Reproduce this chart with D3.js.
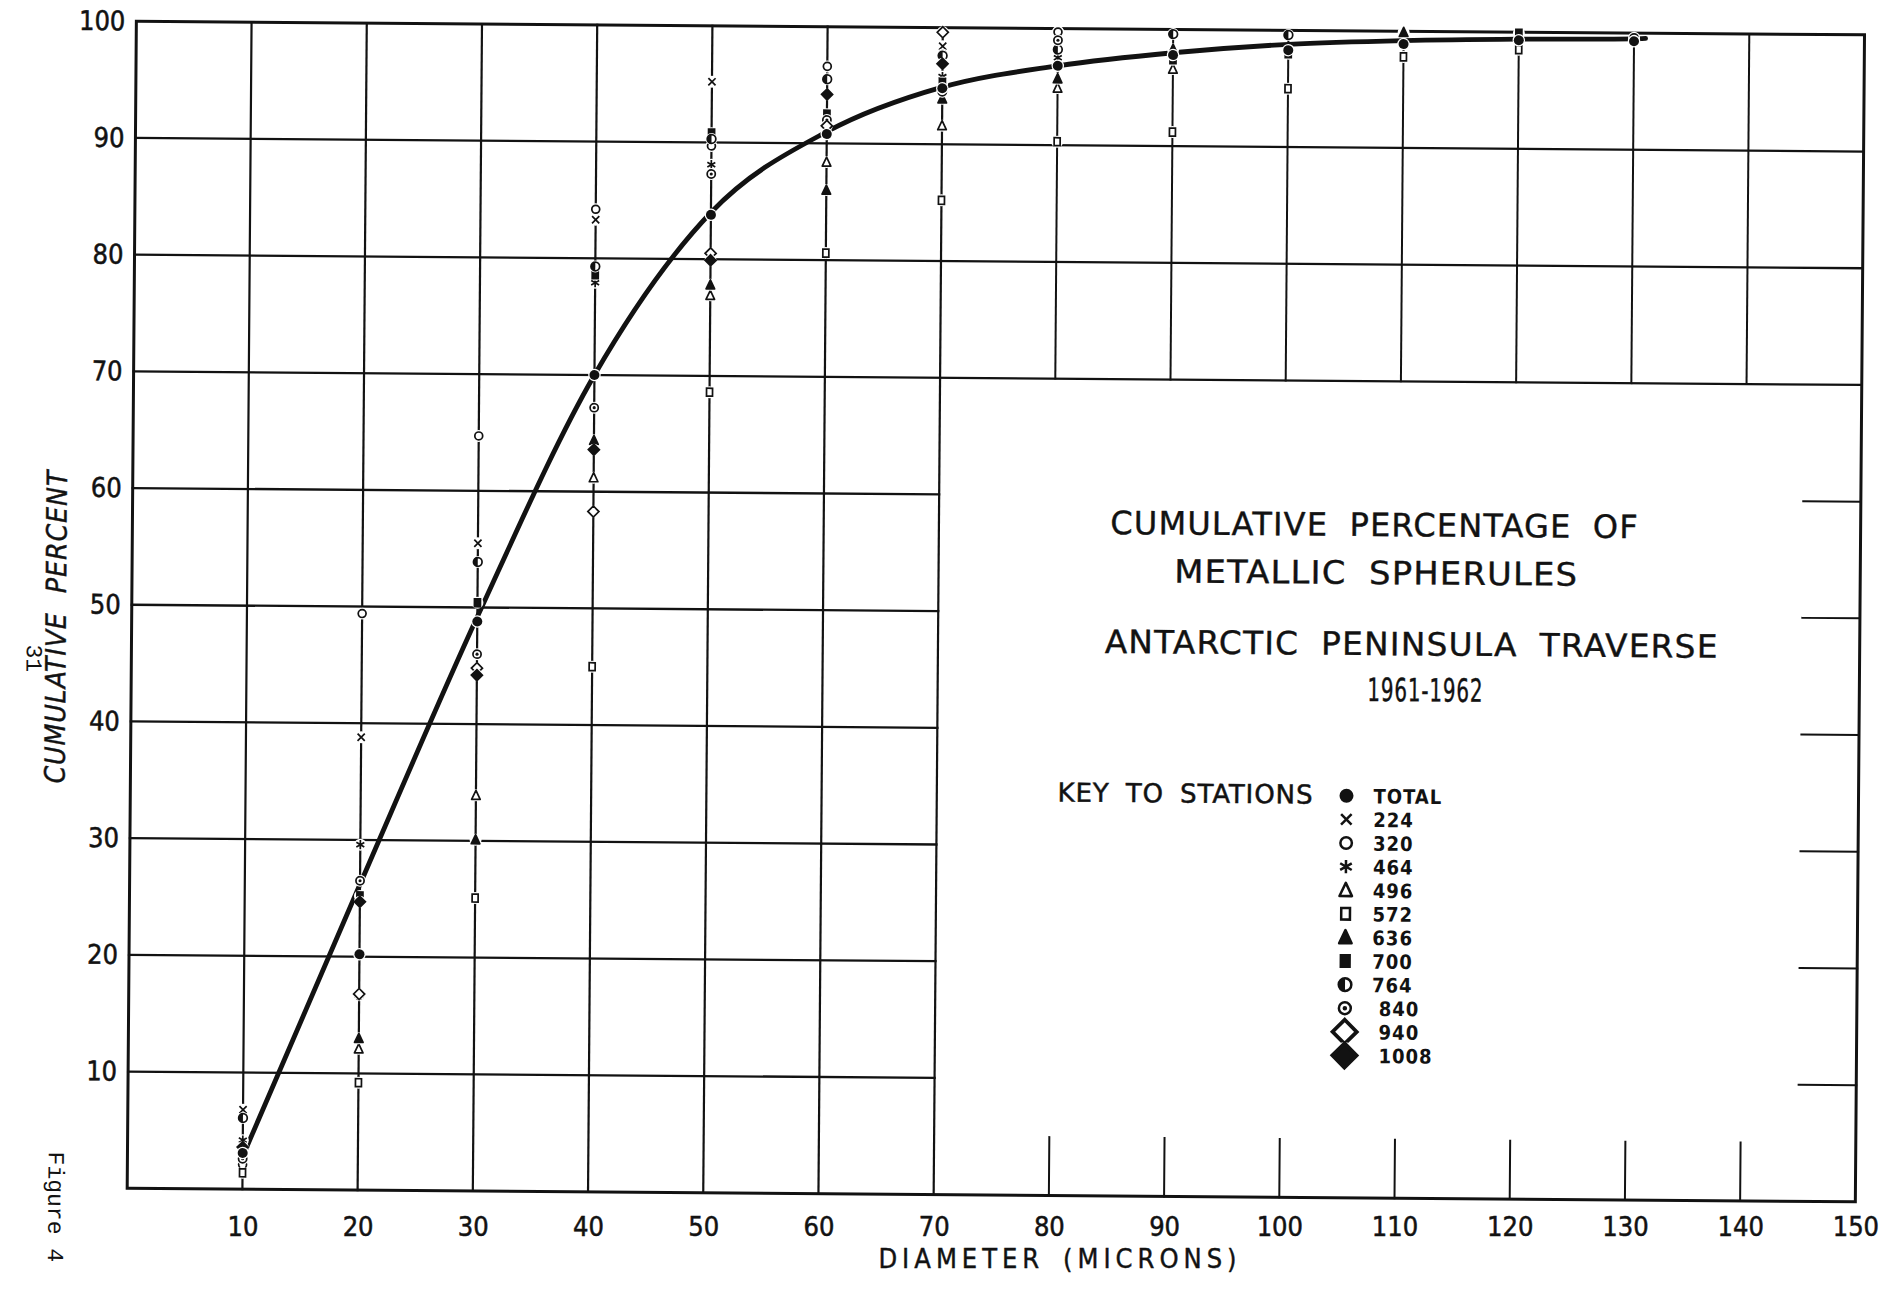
<!DOCTYPE html>
<html>
<head>
<meta charset="utf-8">
<script src="https://cdn.jsdelivr.net/npm/d3@7"></script>
<style>
  html, body { margin: 0; padding: 0; background: #fff; }
  svg { display: block; }
</style>
</head>
<body>
<svg id="chart" width="1882" height="1312"></svg>
<script>
// ---- values -------------------------------------------------------------
const diameters = [10, 20, 30, 40, 50, 60, 70, 80, 90, 100, 110, 120, 130];

// cumulative percent per station, aligned with `diameters` (null = not plotted)
const total  = [3.1, 20.2, 48.8, 70.0, 83.8, 90.8, 94.8, 96.8, 97.8, 98.3, 98.9, 99.3, 99.3];
const st224  = [6.8, 38.8, 55.5, 83.3, 95.2, null, 98.4, 99.7, null, null, null, null, null];
const st320  = [2.1, 49.4, 64.7, 84.2, 89.7, 96.6, 97.7, 99.7, null, null, null, null, 99.6];
const st464  = [4.2, 29.6, null, 77.9, 88.1, null, 95.8, 97.5, null, null, null, null, null];
const st496  = [null, 12.1, 33.9, 61.2, 76.9, 88.4, 91.6, 94.9, 96.6, null, null, null, null];
const st572  = [1.4, 9.2, 25.1, 45.0, 68.6, 80.6, 85.2, 90.3, 91.2, 95.0, 97.8, 98.5, null];
const st636  = [null, 13.0, 30.1, 64.4, 77.8, 86.0, 93.9, 95.7, 98.3, null, 99.9, null, null];
const st700  = [null, 25.2, 50.4, 78.6, 90.8, 92.5, 95.3, 98.6, 97.4, 98.0, null, 99.9, null];
const st764  = [6.1, 16.7, 53.9, 79.3, 90.3, 95.5, 97.6, 98.2, 99.6, 99.6, null, null, null];
const st840  = [2.6, 26.5, 46.0, 67.2, 87.3, 92.0, 94.5, 99.0, null, null, null, null, null];
const st940  = [null, 16.8, 44.8, 58.3, 80.5, 91.5, 99.6, null, null, null, null, null, null];
const st1008 = [3.6, 24.7, 44.2, 63.6, 79.9, 94.2, 96.9, null, null, null, null, null, null];

// smoothed cumulative curve
const curveDiameters = [10, 20, 30, 40, 50, 60, 70, 80, 90, 100, 110, 120, 130, 131];
const curvePercent   = [2.8, 26.2, 49.2, 70.0, 84.0, 91.0, 94.9, 96.8, 98.0, 98.8, 99.2, 99.4, 99.5, 99.55];

// station key
const stationNames = ["TOTAL", "224", "320", "464", "496", "572", "636", "700", "764", "840", "940", "1008"];
const stationValues = [total, st224, st320, st464, st496, st572, st636, st700, st764, st840, st940, st1008];
const stationSymbols = ["disc", "cross", "ring", "star", "triangle", "square",
                        "triangleFill", "squareFill", "halfDisc", "bullseye", "diamond", "diamondFill"];

// axis ticks
const xTicks = [10, 20, 30, 40, 50, 60, 70, 80, 90, 100, 110, 120, 130, 140, 150];
const yTicks = [10, 20, 30, 40, 50, 60, 70, 80, 90, 100];

// grid layout (in data units)
const fullRows = [70, 80, 90];
const shortRows = [10, 20, 30, 40, 50, 60];
const lowerCols = [10, 20, 30, 40, 50, 60, 70];
const upperCols = [80, 90, 100, 110, 120, 130, 140];

// ---- drawing ------------------------------------------------------------
const W = 1882, H = 1312;
const INK = "#121212";
const svg = d3.select("#chart");
svg.append("rect").attr("width", W).attr("height", H).attr("fill", "#fff");

// the ruled sheet sits at a slight tilt
const TILT = 0.45, CX = 990, CY = 605;
const g = svg.append("g").attr("transform", `rotate(${TILT} ${CX} ${CY})`);

const x = d3.scaleLinear().domain([0, 150]).range([131.8, 1860]);
const y = d3.scaleLinear().domain([0, 100]).range([1195, 28]);

const grid = g.append("g").attr("stroke", INK).attr("fill", "none").attr("stroke-linecap", "square");

// horizontal rules
grid.selectAll("line.full").data(fullRows).join("line")
  .attr("x1", x(0)).attr("x2", x(150))
  .attr("y1", d => y(d)).attr("y2", d => y(d))
  .attr("stroke-width", 2.3);
grid.selectAll("line.short").data(shortRows).join("line")
  .attr("class", "short")
  .attr("x1", x(0)).attr("x2", x(70))
  .attr("y1", d => y(d)).attr("y2", d => y(d))
  .attr("stroke-width", 2.3);
// vertical rules
grid.selectAll("line.lcol").data(lowerCols).join("line")
  .attr("class", "lcol")
  .attr("x1", d => x(d)).attr("x2", d => x(d))
  .attr("y1", y(0)).attr("y2", y(100))
  .attr("stroke-width", 2.2);
grid.selectAll("line.ucol").data(upperCols).join("line")
  .attr("class", "ucol")
  .attr("x1", d => x(d)).attr("x2", d => x(d))
  .attr("y1", y(70)).attr("y2", y(100))
  .attr("stroke-width", 2);
// short ticks along the right edge and the bottom of the open panel
grid.selectAll("line.rtick").data(shortRows).join("line")
  .attr("class", "rtick")
  .attr("x1", x(145)).attr("x2", x(150))
  .attr("y1", d => y(d)).attr("y2", d => y(d))
  .attr("stroke-width", 2);
grid.selectAll("line.btick").data(upperCols).join("line")
  .attr("class", "btick")
  .attr("x1", d => x(d)).attr("x2", d => x(d))
  .attr("y1", y(0)).attr("y2", y(5))
  .attr("stroke-width", 2);
// frame
grid.append("path")
  .attr("d", `M${x(0)},${y(100)} L${x(150)},${y(100)} L${x(150)},${y(0)} L${x(0)},${y(0)} Z`)
  .attr("stroke-width", 3);

// axes (labels only; the frame is drawn above)
// the diameter labels are lettered level, under the feet of the tilted rules
const footShift = -(y(0) - CY) * Math.sin(TILT * Math.PI / 180);
const xAxis = svg.append("g").attr("transform", `translate(${footShift},${y(0)})`)
  .call(d3.axisBottom(x).tickValues(xTicks).tickSize(0).tickPadding(22).tickFormat(d3.format("d")));
const yAxis = g.append("g").attr("transform", `translate(${x(0)},0)`)
  .call(d3.axisLeft(y).tickValues(yTicks).tickSize(0).tickPadding(11).tickFormat(d3.format("d")));
[xAxis, yAxis].forEach(a => {
  a.select(".domain").remove();
  a.selectAll("text")
    .attr("fill", INK)
    .attr("stroke", INK)
    .attr("stroke-width", 0.5)
    .style("font-family", "'DejaVu Sans Condensed', 'DejaVu Sans', sans-serif")
    .style("font-stretch", "condensed")
    .style("font-size", "27px");
});

// curve
const line = d3.line()
  .x((d, i) => x(curveDiameters[i]))
  .y(d => y(d))
  .curve(d3.curveMonotoneX);
g.append("path")
  .datum(curvePercent)
  .attr("d", line)
  .attr("fill", "none")
  .attr("stroke", INK)
  .attr("stroke-width", 4.8)
  .attr("stroke-linejoin", "round")
  .attr("stroke-linecap", "round");

// marker drawing
function marker(sel, type, s) {
  // white patch so ruled lines break around each symbol
  sel.append("circle").attr("r", s * 1.25).attr("fill", "#fff");
  const sw = Math.max(1.7, s * 0.36);
  switch (type) {
    case "disc":
      sel.append("circle").attr("r", s).attr("fill", INK);
      break;
    case "ring":
      sel.append("circle").attr("r", s * 0.82).attr("fill", "#fff").attr("stroke", INK).attr("stroke-width", sw);
      break;
    case "cross": {
      const a = s * 0.75;
      sel.append("path").attr("d", `M${-a},${-a}L${a},${a}M${-a},${a}L${a},${-a}`)
        .attr("stroke", INK).attr("stroke-width", sw).attr("fill", "none");
      break;
    }
    case "star": {
      const a = s * 0.95, b = a * 0.87, c = a * 0.5;
      sel.append("path").attr("d", `M0,${-a}L0,${a}M${-b},${-c}L${b},${c}M${-b},${c}L${b},${-c}`)
        .attr("stroke", INK).attr("stroke-width", sw).attr("fill", "none");
      break;
    }
    case "triangle":
    case "triangleFill": {
      const h = s * 1.05;
      sel.append("path").attr("d", `M0,${-h}L${h * 0.85},${h * 0.8}L${-h * 0.85},${h * 0.8}Z`)
        .attr("fill", type === "triangle" ? "#fff" : INK)
        .attr("stroke", INK).attr("stroke-width", sw).attr("stroke-linejoin", "round");
      break;
    }
    case "square":
    case "squareFill": {
      const w = s * 1.25, h = s * 1.65;
      sel.append("rect").attr("x", -w / 2).attr("y", -h / 2).attr("width", w).attr("height", h)
        .attr("fill", type === "square" ? "#fff" : INK)
        .attr("stroke", INK).attr("stroke-width", sw);
      break;
    }
    case "halfDisc": {
      const r = s * 0.9;
      sel.append("circle").attr("r", r).attr("fill", "#fff").attr("stroke", INK).attr("stroke-width", sw);
      sel.append("path").attr("d", `M0,${-r}A${r},${r} 0 0 0 0,${r}Z`).attr("fill", INK);
      break;
    }
    case "bullseye": {
      const r = s * 0.85;
      sel.append("circle").attr("r", r).attr("fill", "#fff").attr("stroke", INK).attr("stroke-width", sw);
      sel.append("circle").attr("r", r * 0.38).attr("fill", INK);
      break;
    }
    case "diamond":
    case "diamondFill": {
      const a = s * 1.15;
      sel.append("path").attr("d", `M0,${-a}L${a},0L0,${a}L${-a},0Z`)
        .attr("fill", type === "diamond" ? "#fff" : INK)
        .attr("stroke", INK).attr("stroke-width", sw).attr("stroke-linejoin", "miter");
      break;
    }
  }
}

// plotted points
const points = [];
stationValues.forEach((vals, si) => {
  vals.forEach((v, i) => {
    if (v != null) points.push({ station: si, d: diameters[i], v });
  });
});
// draw station points first, totals last
points.sort((a, b) => (a.station === 0) - (b.station === 0));
g.append("g").selectAll("g").data(points).join("g")
  .attr("transform", p => `translate(${x(p.d)},${y(p.v)})`)
  .each(function (p) { marker(d3.select(this), stationSymbols[p.station], p.station === 0 ? 5 : 4.8); });

// ---- title block ---------------------------------------------------------
const title = g.append("g")
  .attr("fill", INK)
  .attr("stroke", INK)
  .attr("stroke-width", 0.4)
  .style("font-family", "'DejaVu Sans', sans-serif")
  .style("font-size", "32px")
  .style("letter-spacing", "1.2px")
  .style("word-spacing", "10px")
  .attr("text-anchor", "middle");
const titleLines = [
  ["CUMULATIVE PERCENTAGE OF", 1374, 533, null],
  ["METALLIC SPHERULES", 1376, 581, 404],
  ["ANTARCTIC PENINSULA TRAVERSE", 1412, 652, 614],
  ["1961-1962", 1426, 698, 116]
];
title.selectAll("text").data(titleLines).join("text")
  .attr("x", d => d[1]).attr("y", d => d[2])
  .attr("textLength", d => d[3])
  .attr("lengthAdjust", "spacingAndGlyphs")
  .text(d => d[0]);

// ---- key -----------------------------------------------------------------
g.append("text")
  .attr("x", 1059).attr("y", 801)
  .attr("fill", INK)
  .attr("stroke", INK)
  .attr("stroke-width", 0.5)
  .style("font-family", "'DejaVu Sans', sans-serif")
  .style("font-size", "26px")
  .style("letter-spacing", "0.9px")
  .style("word-spacing", "7px")
  .text("KEY TO STATIONS");

const keyRows = g.append("g").selectAll("g").data(stationNames).join("g")
  .attr("transform", (d, i) => `translate(1348,${793 + i * 23.6})`);
keyRows.each(function (d, i) {
  const big = stationSymbols[i].startsWith("diamond");
  marker(d3.select(this), stationSymbols[i], big ? 10.5 : 7);
});
keyRows.append("text")
  .attr("x", (d, i) => (i >= 9 ? 34 : 27))
  .attr("y", 7.5)
  .attr("fill", INK)
  .style("font-family", "'DejaVu Sans Condensed', 'DejaVu Sans', sans-serif")
  .style("font-stretch", "condensed")
  .style("font-weight", "bold")
  .style("font-size", "20px")
  .style("letter-spacing", "1px")
  .text(d => d);

// ---- axis titles -----------------------------------------------------------
svg.append("text")
  .attr("transform", "translate(1060,1268)")
  .attr("text-anchor", "middle")
  .attr("fill", INK)
  .attr("stroke", INK)
  .attr("stroke-width", 0.4)
  .style("font-family", "'DejaVu Sans Condensed', 'DejaVu Sans', sans-serif")
  .style("font-stretch", "condensed")
  .style("font-size", "27px")
  .style("letter-spacing", "5px")
  .style("word-spacing", "6px")
  .text("DIAMETER (MICRONS)");

g.append("text")
  .attr("transform", "translate(66,634) rotate(-90)")
  .attr("text-anchor", "middle")
  .attr("fill", INK)
  .attr("stroke", INK)
  .attr("stroke-width", 0.4)
  .style("font-family", "'DejaVu Sans Condensed', 'DejaVu Sans', sans-serif")
  .style("font-stretch", "condensed")
  .style("font-style", "italic")
  .style("font-size", "28px")
  .style("letter-spacing", "1px")
  .style("word-spacing", "10px")
  .text("CUMULATIVE PERCENT");

// page annotations
g.append("text")
  .attr("transform", "translate(27,652) rotate(90)")
  .attr("fill", INK)
  .style("font-family", "'Liberation Mono', 'DejaVu Sans Mono', monospace")
  .style("font-size", "23px")
  .text("31");
g.append("text")
  .attr("transform", "translate(53,1159) rotate(90)")
  .attr("fill", INK)
  .style("font-family", "'Liberation Mono', 'DejaVu Sans Mono', monospace")
  .style("font-size", "23px")
  .text("Figure 4");
</script>
</body>
</html>
